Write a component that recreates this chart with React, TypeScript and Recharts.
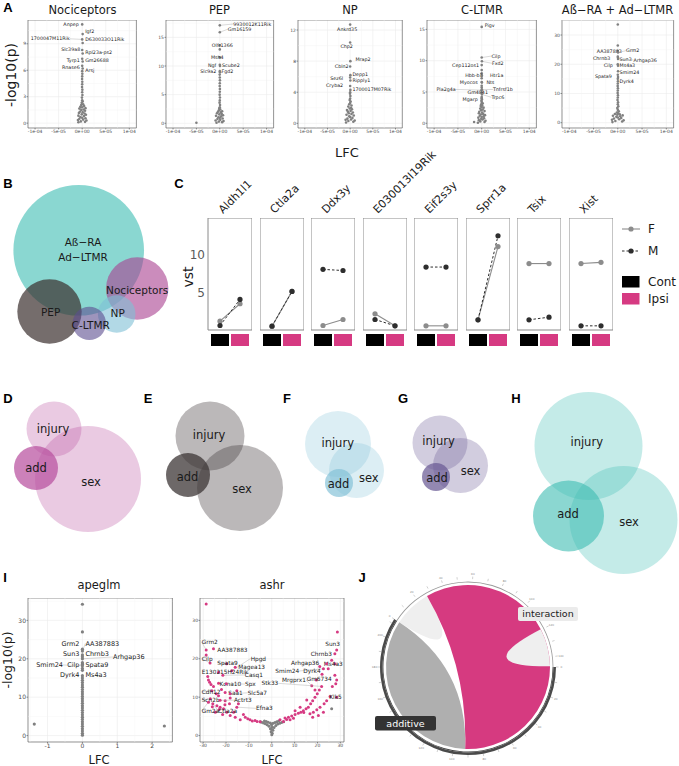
import React from "react";
import {
  ScatterChart,
  Scatter,
  XAxis,
  YAxis,
  CartesianGrid,
  ReferenceArea,
  ReferenceLine,
  LineChart,
  Line,
  PieChart,
  Pie,
  Cell,
} from "recharts";

const FONT = "'DejaVu Sans', Verdana, sans-serif";
const BOLD = "'Liberation Sans', Arial, sans-serif";
const INK = "#1a1a1a";
const TICK = "#4d4d4d";
const PINK = "#d63a82";
const RAD = Math.PI / 180;

type Pt = [number, number];
type Hit = [string, number, number];
type Anchor = "start" | "middle" | "end";
type Nudge = Record<string, [number, number, Anchor]>;
type VSet = [string, number, number, number];

// ---------- A: volcano plots per cell type (LFC in units of 1e-6) ----------
const lfcTicks = [-100, -50, 0, 50, 100];
const lfcTickLabels = ["-1e-04", "-5e-05", "0e+00", "5e-05", "1e-04"];

const nociCloud: Pt[] = [
  [-8, 0.1], [6, 0.15], [-3, 0.2], [9, 0.3], [-9, 0.35], [2, 0.4], [-6, 0.5], [7, 0.55], [0, 0.6],
  [-4, 0.7], [4, 0.8], [-8, 0.85], [8, 0.95], [-1, 1.0], [5, 1.1], [-7, 1.15], [1, 1.25], [-5, 1.3],
  [6, 1.4], [-2, 1.5], [3, 1.55], [-6, 1.65], [7, 1.7], [0, 1.8], [-4, 1.85], [4, 1.95], [-2, 2.05],
  [2, 2.15], [-1, 2.3], [1, 2.45], [0, 2.6], [-0.5, 2.9], [0.5, 3.2], [0, 3.5], [0.3, 3.8],
  [-0.3, 4.1], [0, 4.4], [0.2, 4.7], [-0.2, 5.0], [0, 5.3], [0.3, 5.6], [0, 5.9],
];
const nociHits: Hit[] = [
  ["Anpep", 0, 11.2], ["Igf2", 1, 10.1], ["1700047M11Rik", 0, 9.5], ["D630033O11Rik", 1, 9.1],
  ["Slc39a8", 0, 8.3], ["Rpl23a-ps2", 1, 7.9], ["Tyrp1", 0, 7.3], ["Gm26688", 1, 7.0],
  ["Rnase6", 0, 6.5], ["Arsj", 1, 6.2],
];
const nociNudge: Nudge = {
  Anpep: [-3.5, 0, "end"], Igf2: [2.5, -3, "start"], "1700047M11Rik": [-12.5, -0.6, "end"],
  D630033O11Rik: [2.5, -4, "start"], Slc39a8: [-2, -1, "end"], "Rpl23a-ps2": [2.5, -0.7, "start"],
  Tyrp1: [-2.5, 1.3, "end"], Gm26688: [2.5, -0.7, "start"], Rnase6: [-2.5, 1.5, "end"],
  Arsj: [2.5, 1.6, "start"],
};

const pepCloud: Pt[] = [
  [-7, 0.1], [5, 0.2], [-2, 0.3], [8, 0.4], [-9, 0.5], [1, 0.6], [-5, 0.75], [6, 0.85], [0, 0.95],
  [-3, 1.05], [3, 1.2], [-8, 1.3], [7, 1.4], [-1, 1.55], [4, 1.65], [-6, 1.75], [2, 1.9], [-4, 2.0],
  [5, 2.1], [-2, 2.25], [1, 2.4], [-1, 2.6], [0, 2.8], [0.5, 3.2], [-0.5, 3.6], [0, 4.0], [0.3, 4.5],
  [-0.3, 5.0], [0, 5.5], [0.2, 6.0], [-0.2, 6.5], [0, 7.0], [0.3, 7.5], [0, 8.0], [-0.2, 8.5],
  [0, 12.9], [-50, 0.1],
];
const pepHits: Hit[] = [
  ["9930012K11Rik", 0, 17.1], ["Gm16159", 0, 15.9], ["Olfr1366", 0, 13.6], ["Msh4", 0, 11.5],
  ["Ngf", 0, 10.2], ["Scube2", 0.5, 10.0], ["Slc9a2", 0, 9.1], ["Fgd2", 0.5, 8.9],
];
const pepNudge: Nudge = {
  "9930012K11Rik": [13.5, -1.3, "start"], Gm16159: [8, -3, "start"], Olfr1366: [2.5, 0.3, "middle"],
  Msh4: [-2.5, 0, "middle"], Ngf: [-3.5, 0, "end"], Scube2: [2, -1, "start"],
  Slc9a2: [-3.5, 0.5, "end"], Fgd2: [1.5, -0.6, "start"],
};

const npCloud: Pt[] = [
  [-9, 0.1], [7, 0.2], [-4, 0.3], [10, 0.35], [-10, 0.45], [2, 0.5], [-6, 0.6], [5, 0.7], [0, 0.8],
  [-2, 0.9], [8, 1.0], [-8, 1.1], [3, 1.2], [-3, 1.3], [6, 1.4], [-5, 1.5], [1, 1.6], [-7, 1.7],
  [4, 1.8], [-1, 1.9], [2, 2.0], [-4, 2.15], [3, 2.3], [-2, 2.45], [0, 2.6], [1, 2.8], [-1, 3.0],
  [0, 3.2], [0.5, 3.5], [-0.3, 3.8], [0, 4.0],
];
const npHits: Hit[] = [
  ["Ankrd35", 0, 12.7], ["Chp2", 0, 10.4], ["Mrap2", 0.5, 8.0], ["Cbln2", 0, 7.3], ["Depp1", 0.5, 6.2],
  ["Sez6l", 0, 5.9], ["Ripply1", 0.5, 5.5], ["Cryba2", 0, 4.8], ["1700017M07Rik", 0.5, 4.3],
];
const npNudge: Nudge = {
  Ankrd35: [-3, 5, "middle"], Chp2: [-3.5, 4.3, "middle"], Mrap2: [5, -1.8, "start"],
  Cbln2: [-1.5, 0.2, "end"], Depp1: [2, -1.1, "start"], Sez6l: [-7, 1.3, "end"],
  Ripply1: [2, 0.2, "start"], Cryba2: [-7, -0.3, "end"], "1700017M07Rik": [2, -0.6, "start"],
};

const cltmrCloud: Pt[] = [
  [-8, 0.1], [6, 0.2], [-3, 0.3], [8, 0.4], [-6, 0.5], [2, 0.6], [-1, 0.7], [5, 0.8], [-7, 0.9],
  [0, 1.0], [4, 1.1], [-4, 1.2], [7, 1.3], [-2, 1.4], [3, 1.5], [-6, 1.6], [1, 1.7], [-5, 1.85],
  [6, 1.95], [-1, 2.1], [2, 2.2], [-3, 2.35], [4, 2.5], [0, 2.6], [-2, 2.75], [1, 2.9], [-1, 3.05],
  [2, 3.2], [0, 3.4], [-0.5, 3.6], [0.5, 3.8], [0, 4.0], [0, 5.7], [0, 6.0], [0, 7.2], [0, 8.0],
  [0, 8.5], [-16, 0.2],
];
const cltmrHits: Hit[] = [
  ["Pigv", 0, 15.4], ["Cilp", 0, 10.5], ["Fxd2", 0.5, 9.9], ["Cep112os1", 0, 9.3], ["Hbb-b1", 0, 7.7],
  ["Htr1a", 0.5, 7.6], ["Myocos", 0, 6.6], ["Nts", 0.5, 6.5], ["Tnfrsf1b", 0.5, 5.4],
  ["Pla2g4a", 0, 5.3], ["Gm4841", 0, 4.9], ["Trpc6", 0.5, 4.6], ["Mgarp", 0, 4.2],
];
const cltmrNudge: Nudge = {
  Pigv: [3, -1.7, "start"], Cilp: [9.7, -1.5, "start"], Fxd2: [10, 2, "start"],
  Cep112os1: [-2.7, 0.7, "end"], "Hbb-b1": [1, 0.7, "end"], Htr1a: [8, 0, "start"],
  Myocos: [-4, 0.8, "end"], Nts: [4.5, 0.2, "start"], Tnfrsf1b: [11, 0, "start"],
  Pla2g4a: [-26, -0.7, "end"], Gm4841: [-4, 0, "middle"], Trpc6: [9.5, 2.8, "start"],
  Mgarp: [-4, 2.3, "end"],
};

const abCloud: Pt[] = [
  [-11, 0.2], [9, 0.4], [-5, 0.6], [12, 0.8], [-12, 1.0], [3, 1.2], [-8, 1.4], [7, 1.6], [0, 1.8],
  [-3, 2.0], [5, 2.2], [-10, 2.4], [10, 2.5], [-1, 2.7], [4, 2.9], [-6, 3.0], [1, 3.2], [-2, 3.5],
  [2, 3.9], [0, 4.4], [-1, 5.0], [1, 5.6], [0, 6.3], [0.5, 7.0], [-0.5, 7.8], [0, 8.6], [0.3, 9.4],
  [-0.3, 10.2], [0, 11.0], [0.2, 11.8], [-0.2, 12.6], [0, 13.4], [0.3, 14.2], [0, 15.0],
  [0, 33.6], [0, 26.4],
];
const abHits: Hit[] = [
  ["AA387883", 0, 24.5], ["Grm2", 0.5, 24.0], ["Chrnb3", 0, 22.6], ["Sun3", 0.5, 22.2],
  ["Arhgap36", 0.5, 21.8], ["Cilp", 0, 20.0], ["Ms4a3", 0.5, 19.5], ["Smim24", 0.5, 17.6],
  ["Spata9", 0, 16.4], ["Dyrk4", 0.5, 15.6],
];
const abNudge: Nudge = {
  AA387883: [4, 0, "end"], Grm2: [8, -1.9, "start"], Chrnb3: [-7.5, 1.6, "end"],
  Sun3: [1.5, 2, "start"], Arhgap36: [15.5, 1, "start"], Cilp: [-5, 1.5, "end"],
  Ms4a3: [1.5, 0, "start"], Smim24: [1.5, 1.4, "start"], Spata9: [-6, 2, "end"],
  Dyrk4: [1.5, 4.6, "start"],
};

// ---------- C: vst per gene ----------
const genesC = ["Aldh1l1", "Ctla2a", "Ddx3y", "E030013I19Rik", "Eif2s3y", "Sprr1a", "Tsix", "Xist"];
const conditions = ["Cont", "Ipsi"];
const vstF: Pt[] = [[1.34, 3.6], [0.69, 5.2], [0.78, 1.56], [2.3, 0.74], [0.74, 0.74], [1.52, 11.0], [8.8, 8.8], [8.8, 8.96]];
const vstM: Pt[] = [[0.78, 4.16], [0.69, 5.2], [8.05, 7.9], [1.56, 0.74], [8.35, 8.35], [1.52, 12.4], [1.52, 1.86], [0.74, 0.74]];

// ---------- B, D-H: euler diagrams (local units) ----------
const bSets: VSet[] = [
  ["Aß−RA\nAd−LTMR", 78.7, 75.3, 65.3], ["Nociceptors", 137.2, 113.5, 31.2], ["PEP", 49.5, 136.5, 32.2],
  ["NP", 116.7, 139, 18.8], ["C-LTMR", 89.3, 148.4, 16.7],
];
const dSets: VSet[] = [["injury", 54, 39, 27.5], ["sex", 88, 89, 53], ["add", 36, 78, 22]];
const eSets: VSet[] = [["injury", 65, 46, 34.5], ["sex", 95, 98, 43], ["add", 43, 85, 22]];
const fSets: VSet[] = [["injury", 53, 54, 33], ["sex", 71.5, 80.5, 27.5], ["add", 54, 93, 14]];
const gSets: VSet[] = [["injury", 40, 53, 27.5], ["sex", 60.5, 75.5, 27.5], ["add", 36, 87, 14]];
const hSets: VSet[] = [["injury", 73.5, 61, 54], ["sex", 108.5, 135, 54], ["add", 53.5, 131, 35.5]];

// ---------- I: apeglm / ashr ----------
const apeglmCloud: Pt[] = [
  [0, 0.1], [0, 0.6], [0, 1.2], [0, 1.8], [0, 2.4], [0, 3.0], [0, 3.6], [0, 4.2], [0, 4.8], [0, 5.4],
  [0, 6.0], [0, 6.6], [0, 7.2], [0, 7.8], [0, 8.4], [0, 9.0], [0, 9.6], [0, 10.2], [0, 10.8],
  [0, 11.4], [0, 12.0], [0, 12.6], [0, 13.2], [0, 13.8], [0, 14.4], [0, 15.0], [0, 15.6],
  [-1.38, 3.0], [2.35, 2.5], [0, 34.2], [0, 27.0],
];
const apeglmHits: Hit[] = [
  ["Grm2", 0, 22.5], ["AA387883", 0, 22.0], ["Sun3", 0, 21.0], ["Chrnb3", 0, 20.5],
  ["Arhgap36", 0, 20.0], ["Cilp", 0, 19.0], ["Spata9", 0, 18.6], ["Smim24", 0, 18.2],
  ["Dyrk4", 0, 17.5], ["Ms4a3", 0, 17.0],
];
const apeglmNudge: Nudge = {
  Grm2: [-3, -5.9, "end"], AA387883: [3, -7.8, "start"], Sun3: [-3, -0.9, "end"],
  Chrnb3: [3, -2.9, "start"], Arhgap36: [30.6, -1.8, "start"], Cilp: [-3, 1.7, "end"],
  Spata9: [3, 0.1, "start"], Smim24: [-19.4, -0.7, "end"], Dyrk4: [-3, 5.9, "end"],
  Ms4a3: [3, 4, "start"],
};

const ashrGray: Pt[] = [
  [0, 0.2], [0.2, 0.6], [-0.3, 1.0], [0.5, 1.4], [-0.6, 1.8], [1.0, 2.1], [-1.2, 2.4], [1.8, 2.6],
  [-2.0, 2.8], [2.6, 3.0], [-2.8, 3.1], [3.5, 3.2], [-3.6, 3.3], [4.3, 3.4], [-4.4, 3.5], [5.2, 3.6],
  [-5.0, 3.6], [0, 1.6], [0.1, 2.2], [-0.1, 2.8], [0.6, 3.2], [-0.7, 3.3], [1.4, 3.4], [-1.6, 3.5],
  [2.2, 3.6], [-2.4, 3.7], [3.0, 3.8], [-3.2, 3.8], [0, 3.0], [26.2, 7.0],
];
const ashrPink: Pt[] = [
  [-28.7, 34.3], [28.7, 27.0], [-28.7, 21.0], [26.2, 19.6], [21.0, 18.0], [27.6, 15.7], [28.4, 14.5],
  [28.0, 13.5], [25.5, 10.2], [-27.7, 14.5], [-27.2, 13.9], [-26.6, 13.3], [-25.5, 12.8],
  [-24.3, 10.9], [-23.3, 10.4], [-24.0, 7.8], [-22.6, 7.4], [-21.1, 7.0], [-24.7, 6.1], [-19.7, 6.1],
  [-18.2, 5.2], [-16.0, 4.8], [-13.8, 4.1], [-11.6, 4.8], [-12.4, 5.5], [-16.7, 6.1], [-18.5, 8.3],
  [-20.4, 9.1], [-18.2, 9.8], [-23.3, 16.5], [-9.5, 4.1], [-7.3, 3.9], [-5.1, 3.6], [-21.5, 5.5],
  [-23.0, 6.8], [-26.0, 7.5], [-20.5, 8.0], [-14.6, 8.3], [-15.3, 11.7], [-22.0, 12.0], [-10.5, 4.4],
  [-8.5, 3.8], [-6.4, 3.7], [3.6, 4.1], [5.8, 4.6], [7.3, 4.8], [8.7, 5.1], [10.2, 5.5], [11.6, 5.8],
  [12.7, 6.1], [13.8, 6.5], [15.0, 7.0], [16.0, 7.4], [17.0, 8.3], [17.9, 9.1], [18.9, 10.0],
  [19.9, 10.9], [20.8, 11.9], [16.7, 5.7], [18.2, 6.1], [19.7, 6.7], [21.1, 7.4], [22.9, 8.3],
  [24.0, 9.1], [18.9, 11.9], [15.3, 9.3], [12.4, 7.4], [10.2, 6.5], [20.4, 5.2], [22.6, 6.1],
  [17.9, 4.8], [8.0, 4.1], [5.1, 3.7], [19.5, 14.5], [22.0, 16.0], [14.0, 6.0], [9.5, 4.5], [6.5, 4.2],
];
const ashrHits: Hit[] = [
  ["Grm2", -28.7, 22.3], ["AA387883", -25.5, 22.6], ["Cilp", -27.0, 18.9], ["Spata9", -19.7, 18.7],
  ["Hpgd", -17.5, 16.9], ["Magea13", -16.0, 17.8], ["E130215H24Rik", -28.0, 15.4], ["Casq1", -21.4, 15.7],
  ["Kcna10", -23.3, 13.6], ["Spx", -19.9, 13.5], ["Cdh12", -26.2, 11.7], ["Saa1", -20.4, 11.2],
  ["Slc5a7", -18.2, 10.9], ["Scn2b", -26.9, 9.6], ["Actrt3", -22.6, 9.2], ["Gm2a", -27.7, 8.7],
  ["Ctla2a", -25.8, 8.3], ["Efna3", -15.3, 7.4], ["Sun3", 28.4, 22.3], ["Chrnb3", 27.6, 21.3],
  ["Ms4a3", 27.6, 18.7], ["Arhgap36", 24.0, 18.7], ["Smim24", 22.6, 17.4], ["Dyrk4", 24.7, 17.4],
  ["Mrgprx1", 17.5, 13.0], ["Gm6734", 26.5, 12.8], ["Stk33", 21.8, 12.8], ["Klk5", 28.4, 10.0],
];
const ashrNudge: Nudge = {
  Grm2: [-4.5, -8, "start"], AA387883: [3.8, 1.5, "start"], Cilp: [-8.4, -4.5, "start"],
  Spata9: [-9.5, -0.9, "start"], Hpgd: [18.9, -12.2, "start"], Magea13: [3.1, -0.4, "start"],
  E130215H24Rik: [-6.1, -4.7, "start"], Casq1: [22, -0.3, "start"], Kcna10: [1, 0.7, "start"],
  Spx: [18.7, 0.3, "start"], Cdh12: [-10.2, 1.1, "start"], Saa1: [3.1, 0.2, "start"],
  Slc5a7: [17.5, -0.9, "start"], Scn2b: [-8.6, 1.4, "start"], Actrt3: [13.9, -0.1, "start"],
  Gm2a: [-6.8, 8.6, "start"], Ctla2a: [5.5, 7.1, "start"], Efna3: [19.2, 1.2, "start"],
  Sun3: [3.3, -5.7, "end"], Chrnb3: [-3, -0.2, "end"], Ms4a3: [7.8, -0.2, "end"],
  Arhgap36: [-7.4, -0.8, "end"], Smim24: [-24.2, 2.2, "end"], Dyrk4: [-7.6, 2.2, "end"],
  Mrgprx1: [-5.8, -5.6, "end"], Gm6734: [-0.7, -7.1, "end"], Stk33: [-43.3, -3.1, "end"],
  Klk5: [-7.4, 0.2, "start"],
};

// ---------- J: chord diagram ----------
const chordSectors = ["interaction", "additive"];
const chordSectorSize = [147, 213];
const chordSlots = ["interaction-self-1", "interaction-additive", "interaction-self-2", "additive-interaction", "additive-self"];
const chordSlotSize = [27, 92.5, 27, 92.5, 121];
const chordSlotEnd = [0, 3, 2, -1, 4];
const chordColors = ["#efefef", "#d63a80", "#efefef", "none", "#afafaf"];

const J_LEFT = 368.3;
const J_TOP = 566.7;
const J_BOXES = [
  { x: 518, y: 607, w: 60, h: 14 },
  { x: 375, y: 716, w: 61, h: 14.5 },
];

function Volcano(p: {
  left: number; top: number; w: number; h: number; yAxisW: number;
  xDomain: [number, number]; xTicks: number[]; xLabels?: string[]; xMinor: number[];
  yDomain: [number, number]; yTicks: number[]; yMinor: number[];
  cloud: Pt[]; extra?: Pt[]; hits: Hit[]; nudge: Nudge;
  cloudColor: string; extraColor?: string; hitColor: string;
  dotR: number; tickFont: number; labelFont: number;
}) {
  const xAxisH = p.tickFont + 4;
  const cloud = p.cloud.map(([x, y]) => ({ x, y }));
  const extra = (p.extra ?? []).map(([x, y]) => ({ x, y }));
  const hits = p.hits.map(([gene, x, y]) => ({ gene, x, y }));
  const fmtX = (v: number) => {
    const i = p.xTicks.indexOf(v);
    return p.xLabels && i >= 0 ? p.xLabels[i] : String(v);
  };
  const dot = (color: string) => (s: any) => <circle cx={s.cx} cy={s.cy} r={p.dotR} fill={color} />;
  const hitShape = (s: any) => {
    const n = p.nudge[s.payload.gene] ?? [3, 0, "start"];
    const lx = s.cx + n[0];
    const ly = s.cy + n[1];
    const far = Math.hypot(n[0], n[1]) > 8;
    return (
      <g>
        {far && <line x1={s.cx} y1={s.cy} x2={lx} y2={ly} stroke="#a0a0a0" strokeWidth={0.4} />}
        <circle cx={s.cx} cy={s.cy} r={p.dotR} fill={p.hitColor} />
        <text x={lx} y={ly} dy="0.35em" textAnchor={n[2]} fontSize={p.labelFont} fill={INK} fontFamily={FONT}>
          {s.payload.gene}
        </text>
      </g>
    );
  };
  const tick = { fontSize: p.tickFont, fill: TICK, fontFamily: FONT };
  return (
    <div style={{ position: "absolute", left: p.left - p.yAxisW, top: p.top }}>
      <ScatterChart width={p.yAxisW + p.w + 8} height={p.h + xAxisH} margin={{ top: 0, right: 8, bottom: 0, left: 0 }}>
        <CartesianGrid stroke="#ebebeb" strokeWidth={0.6} />
        {p.xMinor.map((v) => <ReferenceLine key={"x" + v} x={v} stroke="#f3f3f3" strokeWidth={0.4} />)}
        {p.yMinor.map((v) => <ReferenceLine key={"y" + v} y={v} stroke="#f3f3f3" strokeWidth={0.4} />)}
        <XAxis type="number" dataKey="x" domain={p.xDomain} ticks={p.xTicks} allowDataOverflow interval={0}
          tickFormatter={fmtX} height={xAxisH} tick={tick} tickSize={1.5} tickMargin={0.5} axisLine={false}
          tickLine={{ stroke: "#333", strokeWidth: 0.5 }} />
        <YAxis type="number" dataKey="y" domain={p.yDomain} ticks={p.yTicks} allowDataOverflow interval={0}
          width={p.yAxisW} tick={tick} tickSize={1.5} tickMargin={0.5} axisLine={false}
          tickLine={{ stroke: "#333", strokeWidth: 0.5 }} />
        <Scatter data={cloud} shape={dot(p.cloudColor)} isAnimationActive={false} />
        <Scatter data={extra} shape={dot(p.extraColor ?? p.cloudColor)} isAnimationActive={false} />
        <Scatter data={hits} shape={hitShape} isAnimationActive={false} />
        <ReferenceArea x1={p.xDomain[0]} x2={p.xDomain[1]} y1={p.yDomain[0]} y2={p.yDomain[1]}
          fill="none" stroke="#555" strokeWidth={0.6} ifOverflow="visible" />
      </ScatterChart>
    </div>
  );
}

function Venn(p: {
  left: number; top: number; w: number; h: number; sets: VSet[];
  color: Record<string, string>; opac: Record<string, number>;
  nudge: Record<string, [number, number]>; fontSize: number;
}) {
  const data = p.sets.map(([name, x, y, r]) => ({ name, x, y, r }));
  const circle = (s: any) => (
    <circle cx={s.cx} cy={s.cy} r={s.payload.r} fill={p.color[s.payload.name]} fillOpacity={p.opac[s.payload.name]} />
  );
  const label = (s: any) => {
    const [dx, dy] = p.nudge[s.payload.name] ?? [0, 0];
    const lines = String(s.payload.name).split("\n");
    const x = s.cx + dx;
    return (
      <text x={x} y={s.cy + dy} textAnchor="middle" fontSize={p.fontSize} fill={INK} fontFamily={FONT}>
        {lines.map((ln, i) => (
          <tspan key={i} x={x} dy={i === 0 ? `${0.35 - (lines.length - 1) * 0.715}em` : "1.43em"}>{ln}</tspan>
        ))}
      </text>
    );
  };
  return (
    <div style={{ position: "absolute", left: p.left, top: p.top }}>
      <ScatterChart width={p.w} height={p.h} margin={{ top: 0, right: 0, bottom: 0, left: 0 }}>
        <XAxis type="number" dataKey="x" domain={[0, p.w]} allowDataOverflow hide />
        <YAxis type="number" dataKey="y" domain={[0, p.h]} allowDataOverflow reversed hide />
        <Scatter data={data} shape={circle} isAnimationActive={false} />
        <Scatter data={data} shape={label} isAnimationActive={false} />
      </ScatterChart>
    </div>
  );
}

const vennStyle = (base: string, soft: number, strong: number) => ({
  color: { injury: base, sex: base, add: base } as Record<string, string>,
  opac: { injury: soft, sex: soft, add: strong } as Record<string, number>,
});

const FACET_LEFT = 208;
const FACET_STEP = 51.57;
const FACET_W = 44;
const FACET_TOP = 217.7;
const FACET_H = 112;

function CondTick(props: any) {
  const { x, y, payload } = props;
  return <rect x={x - 9} y={y} width={18} height={12} fill={payload.value === 1 ? "#000" : PINK} />;
}

function Facet({ idx }: { idx: number }) {
  const first = idx === 0;
  const yW = first ? 24 : 0;
  const rows = conditions.map((c, i) => ({ cond: c, x: i + 1, F: vstF[idx][i], M: vstM[idx][i] }));
  return (
    <div style={{ position: "absolute", left: FACET_LEFT + idx * FACET_STEP - yW, top: FACET_TOP }}>
      <LineChart width={yW + FACET_W} height={FACET_H + 18} data={rows} margin={{ top: 0, right: 0, bottom: 0, left: 0 }}>
        <XAxis type="number" dataKey="x" domain={[0.4, 2.6]} ticks={[1, 2]} allowDataOverflow interval={0}
          height={18} tickSize={0} tickMargin={4} axisLine={false} tickLine={false} tick={<CondTick />} />
        <YAxis type="number" domain={[0.2, 14.7]} ticks={[5, 10]} allowDataOverflow hide={!first} width={yW}
          tickSize={0} tickMargin={3} axisLine={false} tickLine={false}
          tick={{ fontSize: 12, fill: "#5a5a5a", fontFamily: FONT }} />
        <ReferenceArea x1={0.4} x2={2.6} y1={0.2} y2={14.7} fill="none" stroke="#8a8a8a" strokeWidth={1} ifOverflow="visible" />
        <Line type="linear" dataKey="F" stroke="#8c8c8c" strokeWidth={1.1}
          dot={{ r: 2.6, fill: "#8c8c8c", stroke: "none" }} isAnimationActive={false} />
        <Line type="linear" dataKey="M" stroke="#2e2e2e" strokeWidth={1} strokeDasharray="2.5 2"
          dot={{ r: 2.6, fill: "#2e2e2e", stroke: "none" }} isAnimationActive={false} />
      </LineChart>
    </div>
  );
}

function sectorAngles(s: any): [number, number] {
  const start = s.startAngle ?? s.midAngle + s.percent * 180;
  const end = s.endAngle ?? s.midAngle - s.percent * 180;
  return [start, end];
}

const renderRibbon = (s: any) => {
  const idx = s.index ?? chordSlots.indexOf(s.name ?? s.payload?.name);
  const last = chordSlotEnd[idx];
  if (last < 0) return <g />;
  const [a1, e] = sectorAngles(s);
  const k = (e - a1) / s.value;
  const span = chordSlotSize.slice(idx, last + 1).reduce((a, b) => a + b, 0);
  const a2 = a1 + k * span;
  const R = 82;
  const pt = (a: number) => [s.cx + R * Math.cos(-a * RAD), s.cy + R * Math.sin(-a * RAD)];
  const [x1, y1] = pt(a1);
  const [x2, y2] = pt(a2);
  const large = Math.abs(a2 - a1) > 180 ? 1 : 0;
  const sweep = a2 < a1 ? 1 : 0;
  const d = `M${x1},${y1} A${R},${R} 0 ${large} ${sweep} ${x2},${y2} Q${s.cx},${s.cy} ${x1},${y1} Z`;
  return <path d={d} fill={chordColors[idx]} stroke="none" />;
};

const underBox = (x: number, y: number) =>
  J_BOXES.some((b) => {
    const px = J_LEFT + x;
    const py = J_TOP + y;
    return px > b.x - 3 && px < b.x + b.w + 3 && py > b.y - 3 && py < b.y + b.h + 3;
  });

const renderTicks = (s: any) => {
  const [start, end] = sectorAngles(s);
  const k = (end - start) / s.value;
  const marks: React.ReactNode[] = [];
  for (let v = 0; v <= s.value; v += 10) {
    const a = (start + k * v) * RAD;
    const c = Math.cos(-a);
    const sn = Math.sin(-a);
    marks.push(<line key={"l" + v} x1={s.cx + 88 * c} y1={s.cy + 88 * sn} x2={s.cx + 90.5 * c} y2={s.cy + 90.5 * sn} stroke="#888" strokeWidth={0.4} />);
    const tx = s.cx + 93.5 * c;
    const ty = s.cy + 93.5 * sn;
    if (v % 20 === 0 && !underBox(tx, ty))
      marks.push(<text key={"t" + v} x={tx} y={ty} dy="0.35em" textAnchor="middle" fontSize={2.8} fill="#888" fontFamily={FONT}>{v}</text>);
  }
  return <g>{marks}</g>;
};

function Chord() {
  const ring = chordSectors.map((name, i) => ({ name, value: chordSectorSize[i] }));
  const slots = chordSlots.map((name, i) => ({ name, value: chordSlotSize[i] }));
  const start = 90 - 303;
  return (
    <div style={{ position: "absolute", left: J_LEFT, top: J_TOP }}>
      <PieChart width={200} height={200} margin={{ top: 0, right: 0, bottom: 0, left: 0 }}>
        <Pie data={slots} dataKey="value" nameKey="name" cx={100} cy={100} innerRadius={0} outerRadius={82}
          startAngle={start} endAngle={start - 360} fill="transparent" stroke="none" label={renderRibbon}
          labelLine={false} isAnimationActive={false} />
        <Pie data={ring} dataKey="value" nameKey="name" cx={100} cy={100} innerRadius={84.6} outerRadius={85.4}
          startAngle={start} endAngle={start - 360} stroke="none" label={renderTicks} labelLine={false}
          isAnimationActive={false}>
          <Cell fill="#9a9a9a" />
          <Cell fill="#444" />
        </Pie>
        <Pie data={ring} dataKey="value" nameKey="name" cx={100} cy={100} innerRadius={85.4} outerRadius={88}
          startAngle={start} endAngle={start - 360} stroke="none" isAnimationActive={false}>
          <Cell fill="transparent" />
          <Cell fill="#4a4a4a" />
        </Pie>
      </PieChart>
    </div>
  );
}

function Overlay() {
  const letters: [string, number, number][] = [
    ["A", 8, 7], ["B", 8, 183], ["C", 179, 183], ["D", 8, 398], ["E", 148, 398], ["F", 287, 398],
    ["G", 403, 398], ["H", 516, 398], ["I", 5, 577], ["J", 362, 577],
  ];
  const titles: [string, number][] = [
    ["Nociceptors", 82.5], ["PEP", 219.5], ["NP", 350], ["C-LTMR", 482], ["Aß−RA + Ad−LTMR", 617.5],
  ];
  return (
    <svg width={679} height={766} style={{ position: "absolute", left: 0, top: 0, pointerEvents: "none" }}>
      {letters.map(([t, x, y]) => (
        <text key={t} x={x} y={y} dy="0.35em" textAnchor="middle" fontSize={13} fontWeight="bold" fontFamily={BOLD} fill="#000">{t}</text>
      ))}
      {titles.map(([t, x]) => (
        <text key={t} x={x} y={10} dy="0.35em" textAnchor="middle" fontSize={11.5} fontFamily={FONT} fill={INK}>{t}</text>
      ))}
      <text x={11} y={75} dy="0.35em" textAnchor="middle" fontSize={14} fontFamily={FONT} fill={INK} transform="rotate(-90 11 75)">-log10(p)</text>
      <text x={347} y={152} dy="0.35em" textAnchor="middle" fontSize={13} fontFamily={FONT} fill={INK}>LFC</text>

      <text x={188} y={277} dy="0.35em" textAnchor="middle" fontSize={14} fontFamily={FONT} fill={INK} transform="rotate(-90 188 277)">vst</text>
      {genesC.map((g, i) => {
        const x = FACET_LEFT + i * FACET_STEP + FACET_W / 2 - 7;
        return (
          <text key={g} x={x} y={214} fontSize={11} fontFamily={FONT} fill={INK} transform={`rotate(-45 ${x} 214)`}>{g}</text>
        );
      })}
      <line x1={622} y1={229} x2={640} y2={229} stroke="#8c8c8c" strokeWidth={1.1} />
      <circle cx={631} cy={229} r={2.6} fill="#8c8c8c" />
      <text x={648} y={229} dy="0.35em" fontSize={12} fontFamily={FONT} fill={INK}>F</text>
      <line x1={622} y1={251} x2={640} y2={251} stroke="#2e2e2e" strokeWidth={1} strokeDasharray="2.5 2" />
      <circle cx={631} cy={251} r={2.6} fill="#2e2e2e" />
      <text x={648} y={251} dy="0.35em" fontSize={12} fontFamily={FONT} fill={INK}>M</text>
      <rect x={622} y={276} width={17.5} height={11.5} fill="#000" />
      <text x={648} y={282} dy="0.35em" fontSize={12} fontFamily={FONT} fill={INK}>Cont</text>
      <rect x={622} y={293} width={17.5} height={11.5} fill={PINK} />
      <text x={648} y={299} dy="0.35em" fontSize={12} fontFamily={FONT} fill={INK}>Ipsi</text>

      <text x={99} y={585} dy="0.35em" textAnchor="middle" fontSize={11.5} fontFamily={FONT} fill={INK}>apeglm</text>
      <text x={272} y={585} dy="0.35em" textAnchor="middle" fontSize={11.5} fontFamily={FONT} fill={INK}>ashr</text>
      <text x={99} y={760} dy="0.35em" textAnchor="middle" fontSize={11.5} fontFamily={FONT} fill={INK}>LFC</text>
      <text x={272} y={760} dy="0.35em" textAnchor="middle" fontSize={11.5} fontFamily={FONT} fill={INK}>LFC</text>
      <text x={8} y={660} dy="0.35em" textAnchor="middle" fontSize={12.5} fontFamily={FONT} fill={INK} transform="rotate(-90 8 660)">-log10(p)</text>

      <rect x={J_BOXES[0].x} y={J_BOXES[0].y} width={J_BOXES[0].w} height={J_BOXES[0].h} rx={2} fill="#ebebeb" />
      <text x={548} y={614} dy="0.35em" textAnchor="middle" fontSize={9.5} fontFamily={FONT} fill={INK}>interaction</text>
      <rect x={J_BOXES[1].x} y={J_BOXES[1].y} width={J_BOXES[1].w} height={J_BOXES[1].h} rx={2} fill="#333" />
      <text x={405.5} y={723.3} dy="0.35em" textAnchor="middle" fontSize={9.5} fontFamily={FONT} fill="#fff">additive</text>
    </svg>
  );
}

export default function App() {
  const d = vennStyle("#b9509f", 0.3, 0.72);
  const e = vennStyle("#3c3536", 0.35, 0.75);
  const f = vennStyle("#7ebfd6", 0.27, 0.65);
  const g = vennStyle("#6a5a94", 0.3, 0.72);
  const h = vennStyle("#3dbdb2", 0.3, 0.6);
  const bColor: Record<string, string> = {
    "Aß−RA\nAd−LTMR": "#3cbdb2", Nociceptors: "#a9408f", PEP: "#3a2f2e", NP: "#7fbfd6", "C-LTMR": "#5c4d8f",
  };
  const bOpac: Record<string, number> = {
    "Aß−RA\nAd−LTMR": 0.6, Nociceptors: 0.6, PEP: 0.7, NP: 0.6, "C-LTMR": 0.6,
  };
  const aCommon = {
    top: 20, h: 108, yAxisW: 10, xDomain: [-115, 115] as [number, number], xTicks: lfcTicks,
    xLabels: lfcTickLabels, xMinor: [-75, -25, 25, 75], cloudColor: "#808080", hitColor: "#808080",
    dotR: 1.3, tickFont: 4.5, labelFont: 4.8,
  };
  return (
    <div style={{ position: "absolute", left: 0, top: 0, width: 679, height: 766, background: "#fff", overflow: "hidden", fontFamily: FONT }}>
      <Volcano {...aCommon} left={28.3} w={108.4} yDomain={[-0.55, 11.7]} yTicks={[0, 3, 6, 9]} yMinor={[1.5, 4.5, 7.5, 10.5]}
        cloud={nociCloud} hits={nociHits} nudge={nociNudge} />
      <Volcano {...aCommon} left={165.7} w={107.6} yDomain={[-0.82, 18.03]} yTicks={[0, 5, 10, 15]} yMinor={[2.5, 7.5, 12.5, 17.5]}
        cloud={pepCloud} hits={pepHits} nudge={pepNudge} />
      <Volcano {...aCommon} left={297.7} w={104.3} yDomain={[-0.6, 13.29]} yTicks={[0, 4, 8, 12]} yMinor={[2, 6, 10]}
        cloud={npCloud} hits={npHits} nudge={npNudge} />
      <Volcano {...aCommon} left={427.3} w={109.4} yDomain={[-0.75, 16.5]} yTicks={[0, 5, 10, 15]} yMinor={[2.5, 7.5, 12.5]}
        cloud={cltmrCloud} hits={cltmrHits} nudge={cltmrNudge} />
      <Volcano {...aCommon} left={561.7} w={111.6} yDomain={[-1.81, 35.14]} yTicks={[0, 10, 20, 30]} yMinor={[5, 15, 25, 35]}
        cloud={abCloud} hits={abHits} nudge={abNudge} />

      <Venn left={0} top={175} w={175} h={175} sets={bSets} color={bColor} opac={bOpac} fontSize={10.5}
        nudge={{ "Aß−RA\nAd−LTMR": [4.3, 0], Nociceptors: [0, 2.2], PEP: [1.2, 0.8], NP: [1, -0.7], "C-LTMR": [1.4, 1.6] }} />

      {genesC.map((gene, i) => <Facet key={gene} idx={i} />)}

      <Venn left={0} top={390} w={150} h={150} sets={dSets} {...d} fontSize={11.5}
        nudge={{ injury: [-1, 0], add: [0, 0], sex: [3, 2.7] }} />
      <Venn left={145} top={390} w={145} h={145} sets={eSets} {...e} fontSize={11.5}
        nudge={{ injury: [-1, -1], add: [-0.5, 1.7], sex: [2, 1] }} />
      <Venn left={285} top={390} w={115} h={115} sets={fSets} {...f} fontSize={11.5}
        nudge={{ injury: [-0.3, -1.3], add: [-0.5, 1], sex: [12.3, 7.5] }} />
      <Venn left={400} top={390} w={100} h={110} sets={gSets} {...g} fontSize={11.5}
        nudge={{ injury: [-1.5, -2], add: [1, 1], sex: [10, 5.5] }} />
      <Venn left={515} top={385} w={164} h={195} sets={hSets} {...h} fontSize={11.5}
        nudge={{ injury: [-1.8, -4.3], add: [-0.5, -2], sex: [5.5, 1.7] }} />

      <Volcano left={28.3} top={597.7} w={144.4} h={144} yAxisW={13} xDomain={[-1.56, 2.58]} xTicks={[-1, 0, 1, 2]}
        xMinor={[-1.5, -0.5, 0.5, 1.5, 2.5]} yDomain={[-1.67, 35.83]} yTicks={[0, 10, 20, 30]} yMinor={[5, 15, 25, 35]}
        cloud={apeglmCloud} hits={apeglmHits} nudge={apeglmNudge} cloudColor="#808080" hitColor="#808080"
        dotR={1.6} tickFont={6} labelFont={6.5} />
      <Volcano left={200} top={597.7} w={144} h={144} yAxisW={10} xDomain={[-31.4, 31.6]} xTicks={[-30, -20, -10, 0, 10, 20, 30]}
        xMinor={[-25, -15, -5, 5, 15, 25]} yDomain={[-1.67, 35.83]} yTicks={[0, 10, 20, 30]} yMinor={[5, 15, 25, 35]}
        cloud={ashrGray} extra={ashrPink} extraColor={PINK} hits={ashrHits} nudge={ashrNudge}
        cloudColor="#808080" hitColor={PINK} dotR={1.5} tickFont={4.5} labelFont={5.8} />

      <Chord />
      <Overlay />
    </div>
  );
}
